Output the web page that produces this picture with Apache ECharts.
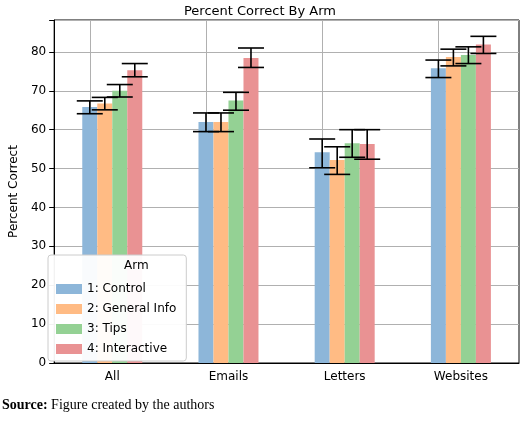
<!DOCTYPE html>
<html>
<head>
<meta charset="utf-8">
<script src="https://cdn.jsdelivr.net/npm/echarts@6/dist/echarts.min.js"></script>
<style>
  html, body { margin: 0; padding: 0; background: #fff; }
  #chart { width: 520px; height: 421px; }
</style>
</head>
<body>
<div id="chart"></div>
<script>
// ── Data ──────────────────────────────────────────────────────────────────
const categories = ['All', 'Emails', 'Letters', 'Websites'];
const armNames = ['1: Control', '2: General Info', '3: Tips', '4: Interactive'];
const armColors = ['#8db6d9', '#ffbb84', '#94d194', '#e99293'];

const controlVals     = [65.8, 62.0, 54.2, 75.8];
const generalVals     = [66.7, 62.0, 52.2, 78.7];
const tipsVals        = [70.0, 67.5, 56.5, 79.2];
const interactiveVals = [75.3, 78.4, 56.3, 81.9];

// error bar [low, high] per category
const controlErr     = [[64.1, 67.4], [59.5, 64.3], [50.2, 57.6], [73.4, 77.9]];
const generalErr     = [[65.1, 68.3], [59.5, 64.3], [48.5, 55.6], [76.4, 80.7]];
const tipsErr        = [[68.4, 71.6], [65.0, 69.6], [52.9, 60.0], [77.0, 81.3]];
const interactiveErr = [[73.6, 77.0], [76.0, 81.0], [52.4, 60.0], [79.6, 84.0]];

const yTicks = [0, 10, 20, 30, 40, 50, 60, 70, 80];

const allVals = [controlVals, generalVals, tipsVals, interactiveVals];
const allErr = [controlErr, generalErr, tipsErr, interactiveErr];

// ── Chart ─────────────────────────────────────────────────────────────────
const BAR_W = 15;
const CAP_W = 26;
const chart = echarts.init(document.getElementById('chart'));

const barSeries = armNames.map((name, i) => ({
  name,
  type: 'bar',
  data: allVals[i],
  barWidth: BAR_W,
  barGap: '0%',
  itemStyle: { color: armColors[i] },
  z: 2,
  markLine: i === 0 ? {
    silent: true,
    symbol: 'none',
    label: { show: false },
    lineStyle: { color: '#b0b0b0', type: 'solid', width: 1 },
    data: categories.map(c => ({ xAxis: c })),
    z: 0
  } : undefined
}));

const errSeries = armNames.map((name, i) => ({
  type: 'custom',
  silent: true,
  z: 5,
  data: allErr[i].map((e, k) => [k, e[0], e[1]]),
  renderItem: function (params, api) {
    const lo = api.coord([api.value(0), api.value(1)]);
    const hi = api.coord([api.value(0), api.value(2)]);
    const x = lo[0] + (i - 1.5) * BAR_W;
    const st = { stroke: '#000', lineWidth: 1.6 };
    return {
      type: 'group',
      children: [
        { type: 'line', shape: { x1: x, y1: lo[1], x2: x, y2: hi[1] }, style: st },
        { type: 'line', shape: { x1: x - CAP_W / 2, y1: lo[1], x2: x + CAP_W / 2, y2: lo[1] }, style: st },
        { type: 'line', shape: { x1: x - CAP_W / 2, y1: hi[1], x2: x + CAP_W / 2, y2: hi[1] }, style: st }
      ]
    };
  }
}));

chart.setOption({
  animation: false,
  textStyle: { fontFamily: 'DejaVu Sans' },
  title: {
    text: 'Percent Correct By Arm',
    left: 'center', top: 0,
    textStyle: { fontSize: 13, fontWeight: 'normal', color: '#000' }
  },
  grid: { left: 39, right: 1, top: 20, bottom: 58, show: true, borderColor: '#000', borderWidth: 1 },
  legend: {
    data: armNames,
    orient: 'vertical',
    left: 48, top: 255,
    padding: [28, 10, 6, 8],
    itemGap: 8,
    itemWidth: 26, itemHeight: 10,
    backgroundColor: 'rgba(255,255,255,0.95)',
    borderColor: '#ccc', borderWidth: 1, borderRadius: 3,
    textStyle: { fontSize: 12, color: '#000' },
    icon: 'rect'
  },
  graphic: [
    { type: 'text', left: 124, top: 260, z: 100,
      style: { text: 'Arm', font: '12px DejaVu Sans', fill: '#000' } },
    { type: 'text', left: 2, top: 398,
      style: {
        rich: {
          b: { fontFamily: 'Liberation Serif', fontWeight: 'bold', fontSize: 14, fill: '#000' },
          n: { fontFamily: 'Liberation Serif', fontSize: 14, fill: '#000' }
        },
        text: '{b|Source:}{n| Figure created by the authors}'
      } }
  ],
  xAxis: {
    type: 'category',
    data: categories,
    axisLine: { lineStyle: { color: '#000' } },
    axisTick: { alignWithLabel: true, lineStyle: { color: '#000' } },
    axisLabel: { fontSize: 12, color: '#000', margin: 8 },
    splitLine: { show: false }
  },
  yAxis: {
    type: 'value',
    min: 0, max: 88.2, interval: 10,
    name: 'Percent Correct',
    nameLocation: 'middle', nameGap: 25,
    nameTextStyle: { fontSize: 12, color: '#000' },
    axisLine: { show: true, lineStyle: { color: '#000' } },
    axisTick: { show: true, lineStyle: { color: '#000' } },
    axisLabel: { fontSize: 12, color: '#000',
      formatter: v => (yTicks.indexOf(v) >= 0 ? String(v) : '') },
    splitLine: { lineStyle: { color: '#b0b0b0' } }
  },
  series: barSeries.concat(errSeries)
});
</script>
</body>
</html>
